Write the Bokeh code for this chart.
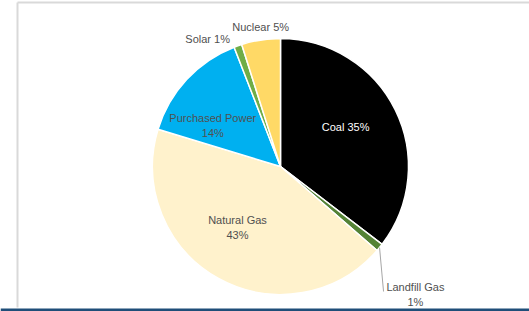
import math
from bokeh.plotting import figure
from bokeh.models import Range1d, ColumnDataSource
from bokeh.core.properties import value
from bokeh.embed import file_html
from bokeh.resources import INLINE

# ---- data ----
categories = ["Coal", "Landfill Gas", "Natural Gas", "Purchased Power", "Solar", "Nuclear"]
shares = [35.4, 1.0, 43.3, 14.4, 1.0, 4.9]
colors = ["#000000", "#548235", "#FFF2CC", "#00B0F0", "#70AD47", "#FFD966"]

# ---- layout ----
W, H = 529, 311
CX, CY = 280, 145          # pie centre (data units == pixels, y up)
R = 128

p = figure(width=W, height=H, output_backend="svg", toolbar_location=None,
           x_range=Range1d(0, W), y_range=Range1d(0, H), min_border=0)
p.axis.visible = False
p.grid.visible = False
p.outline_line_color = None
p.background_fill_color = "white"
p.border_fill_color = "white"

total = sum(shares)
starts, ends = [], []
cum = 0.0
for v in shares:
    a0 = cum / total * 360.0
    cum += v
    a1 = cum / total * 360.0
    starts.append(math.radians(90 - a0))
    ends.append(math.radians(90 - a1))

src = ColumnDataSource(dict(start=starts, end=ends, color=colors, cat=categories))
p.wedge(x=CX, y=CY, radius=R, radius_units="screen", start_angle="start", end_angle="end",
        direction="clock", fill_color="color", line_color="white", line_width=1.5, source=src)

def polar(r, theta_deg):
    t = math.radians(theta_deg)
    return CX + r * math.sin(t), CY + r * math.cos(t)

# label placement: (radius, clockwise angle from top, two-line?)
placement = {
    "Coal": (76, 59, False),
    "Landfill Gas": (186, 133.5, True),
    "Natural Gas": (75, 215, True),
    "Purchased Power": (79, 301, True),
    "Solar": (147, 330.3, False),
    "Nuclear": (141, 351.9, False),
}
label_colors = {"Coal": "white"}

for cat, v in zip(categories, shares):
    r, th, two = placement[cat]
    x, y = polar(r, th)
    pct = f"{round(v / total * 100):d}%"
    txt = f"{cat}\n{pct}" if two else f"{cat} {pct}"
    p.text(x=[x], y=[y], text=[txt], text_font=value("Liberation Sans"),
           text_font_size="11px", text_color=label_colors.get(cat, "#505050"),
           text_align="center", text_baseline="middle", text_line_height=1.25)

# leader line for Landfill Gas
x0, y0 = polar(128, 129.3)
x1, y1 = polar(162, 140.5)
p.line([x0, x1], [y0, y1], line_color="#A6A6A6", line_width=1)

# chart frame and bottom band
p.line([17, 17], [4, H - 2], line_color="#D9D9D9", line_width=2)
p.line([17, W], [H - 2, H - 2], line_color="#D9D9D9", line_width=2)
p.quad(left=0, right=W, bottom=0, top=3, fill_color="#1F4E79", line_color=None)

open("out.html", "w").write(file_html(p, INLINE))
